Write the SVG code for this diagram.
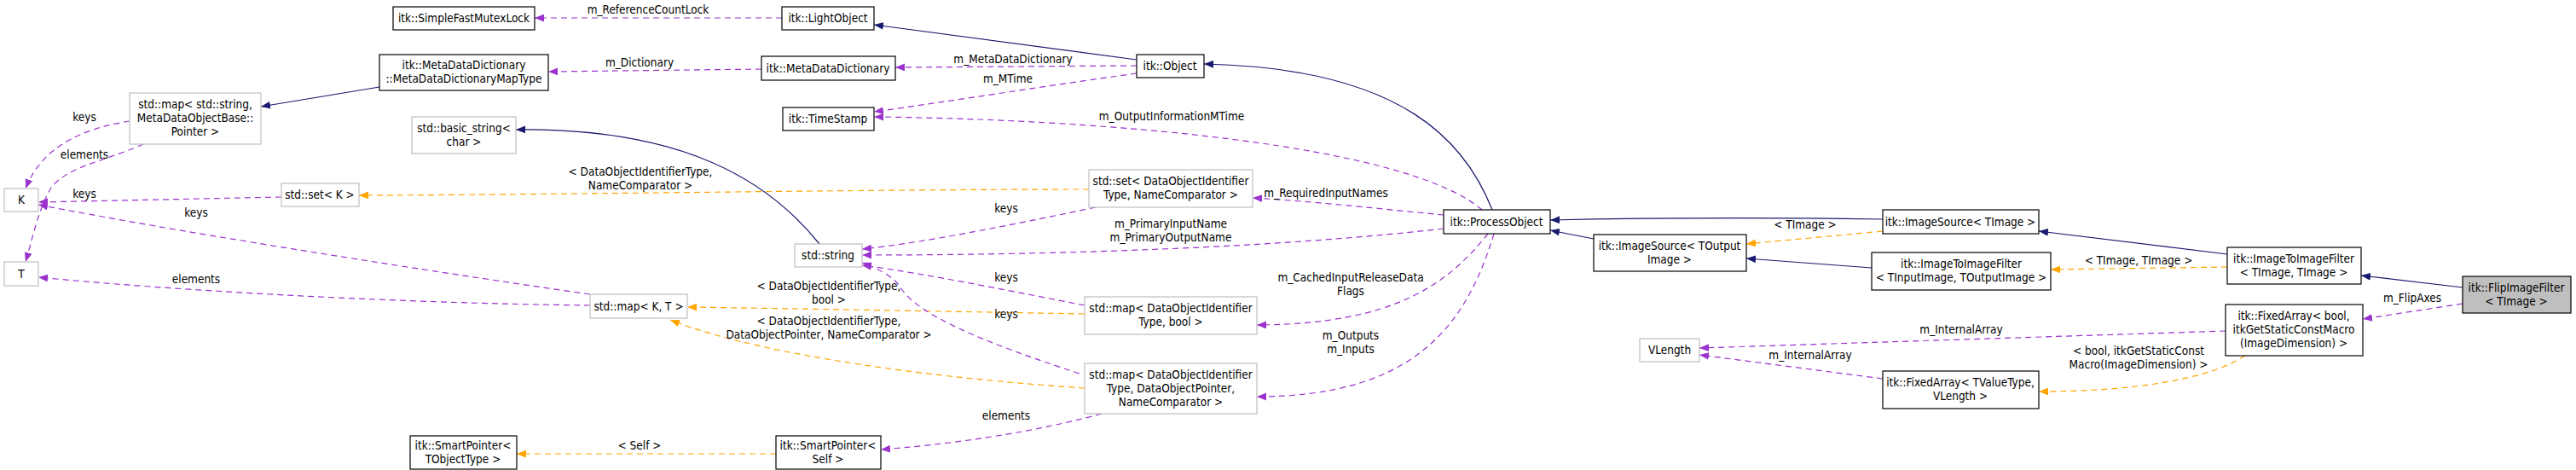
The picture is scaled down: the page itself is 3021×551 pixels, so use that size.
<svg xmlns="http://www.w3.org/2000/svg" width="3021" height="551" viewBox="0 0 3021 551">
<style>
text{font-family:"DejaVu Sans Condensed","DejaVu Sans",sans-serif;font-stretch:condensed;font-size:13.5px;fill:#000;text-anchor:middle}
.n{fill:#fff;stroke:#000;stroke-width:1.2}
.g{fill:#fff;stroke:#bfbfbf;stroke-width:1.2}
.h{fill:#bfbfbf;stroke:#000;stroke-width:1.2}
.i{fill:none;stroke:#191970;stroke-width:1.2}
.u{fill:none;stroke:#9a32cd;stroke-width:1.2;stroke-dasharray:7,5}
.t{fill:none;stroke:#ffa500;stroke-width:1.2;stroke-dasharray:7,5}
</style>
<defs>
<marker id="ai" viewBox="0 0 10 8" refX="10" refY="4" markerWidth="11" markerHeight="9" orient="auto" markerUnits="userSpaceOnUse"><path d="M0,0L10,4L0,8z" fill="#191970"/></marker>
<marker id="au" viewBox="0 0 10 8" refX="10" refY="4" markerWidth="11" markerHeight="9" orient="auto" markerUnits="userSpaceOnUse"><path d="M0,0L10,4L0,8z" fill="#9a32cd"/></marker>
<marker id="at" viewBox="0 0 10 8" refX="10" refY="4" markerWidth="11" markerHeight="9" orient="auto" markerUnits="userSpaceOnUse"><path d="M0,0L10,4L0,8z" fill="#ffa500"/></marker>
</defs>
<g id="connectors">
<path class="u" marker-end="url(#au)" d="M917,21L627,21"/><text x="760" y="16">m_ReferenceCountLock</text>
<path class="i" marker-end="url(#ai)" d="M1333,70L1025,29"/>
<path class="u" marker-end="url(#au)" d="M893,81L643,84"/><text x="750" y="78">m_Dictionary</text>
<path class="i" marker-end="url(#ai)" d="M445,102L306,125"/>
<path class="u" marker-end="url(#au)" d="M1333,77L1050,79"/><text x="1188" y="74">m_MetaDataDictionary</text>
<path class="u" marker-end="url(#au)" d="M1333,86C1230,100 1120,118 1025,131"/><text x="1182" y="97">m_MTime</text>
<path class="u" marker-end="url(#au)" d="M1738,246C1650,170 1300,140 1025,137"/><text x="1374" y="141">m_OutputInformationMTime</text>
<path class="i" marker-end="url(#ai)" d="M1750,246C1720,170 1650,80 1412,75"/>
<path class="u" marker-end="url(#au)" d="M1693,252C1620,245 1540,236 1469,232"/><text x="1555" y="231">m_RequiredInputNames</text>
<path class="u" marker-end="url(#au)" d="M1693,268C1500,290 1250,299 1011,299"/><text x="1373" y="267">m_PrimaryInputName</text><text x="1373" y="283">m_PrimaryOutputName</text>
<path class="u" marker-end="url(#au)" d="M1745,274C1700,330 1640,380 1474,381"/><text x="1584" y="330">m_CachedInputReleaseData</text><text x="1584" y="346">Flags</text>
<path class="u" marker-end="url(#au)" d="M1752,274C1720,380 1660,465 1474,465"/><text x="1584" y="398">m_Outputs</text><text x="1584" y="414">m_Inputs</text>
<path class="i" marker-end="url(#ai)" d="M1869,280L1818,270"/>
<path class="i" marker-end="url(#ai)" d="M2208,257C2080,255 1950,255 1818,258"/>
<path class="t" marker-end="url(#at)" d="M2208,271L2048,286"/><text x="2117" y="268">&lt; TImage &gt;</text>
<path class="i" marker-end="url(#ai)" d="M2195,314L2048,303"/>
<path class="i" marker-end="url(#ai)" d="M2612,298L2391,271"/>
<path class="t" marker-end="url(#at)" d="M2612,313L2405,316"/><text x="2508" y="310">&lt; TImage, TImage &gt;</text>
<path class="i" marker-end="url(#ai)" d="M2888,337L2769,323"/>
<path class="u" marker-end="url(#au)" d="M2888,356L2771,374"/><text x="2829" y="354">m_FlipAxes</text>
<path class="u" marker-end="url(#au)" d="M2610,388L1993,408"/><text x="2300" y="391">m_InternalArray</text>
<path class="u" marker-end="url(#au)" d="M2208,444L1993,416"/><text x="2123" y="421">m_InternalArray</text>
<path class="t" marker-end="url(#at)" d="M2633,417C2590,445 2500,459 2391,459"/><text x="2508" y="416">&lt; bool, itkGetStaticConst</text><text x="2508" y="432">Macro(ImageDimension) &gt;</text>
<path class="t" marker-end="url(#at)" d="M910,532L606,532"/><text x="750" y="527">&lt; Self &gt;</text>
<path class="u" marker-end="url(#au)" d="M1292,485C1200,510 1100,522 1033,527"/><text x="1180" y="492">elements</text>
<path class="t" marker-end="url(#at)" d="M1272,455C1120,445 900,420 786,375"/><text x="972" y="381">&lt; DataObjectIdentifierType,</text><text x="972" y="397">DataObjectPointer, NameComparator &gt;</text>
<path class="t" marker-end="url(#at)" d="M1272,368C1100,365 950,362 806,360"/><text x="972" y="340">&lt; DataObjectIdentifierType,</text><text x="972" y="356">bool &gt;</text>
<path class="u" marker-end="url(#au)" d="M1272,358C1180,340 1080,320 1011,311"/><text x="1180" y="330">keys</text>
<path class="u" marker-end="url(#au)" d="M1266,438C1150,400 1080,370 1058,340C1050,325 1030,315 1011,308"/><text x="1180" y="373">keys</text>
<path class="u" marker-end="url(#au)" d="M1285,243C1180,265 1080,285 1011,292"/><text x="1180" y="249">keys</text>
<path class="t" marker-end="url(#at)" d="M1277,222C1000,222 700,228 421,229"/><text x="751" y="206">&lt; DataObjectIdentifierType,</text><text x="751" y="222">NameComparator &gt;</text>
<path class="i" marker-end="url(#ai)" d="M961,286C900,210 800,150 605,152"/>
<path class="u" marker-end="url(#au)" d="M692,345C450,310 200,270 45,240"/><text x="230" y="254">keys</text>
<path class="u" marker-end="url(#au)" d="M692,358C450,355 200,340 45,325"/><text x="230" y="332">elements</text>
<path class="u" marker-end="url(#au)" d="M330,231L45,237"/><text x="99" y="232">keys</text>
<path class="u" marker-end="url(#au)" d="M152,142C100,150 50,170 30,221"/><text x="99" y="142">keys</text>
<path class="u" marker-end="url(#au)" d="M168,169C120,190 80,195 60,220C45,245 38,280 30,307"/><text x="99" y="186">elements</text>
</g>
<g id="n_mutex"><rect class="n" x="461" y="8" width="166" height="27"/><text x="544" y="26">itk::SimpleFastMutexLock</text></g>
<g id="n_light"><rect class="n" x="917" y="8" width="108" height="27"/><text x="971" y="26">itk::LightObject</text></g>
<g id="n_maptype"><rect class="n" x="445" y="64" width="198" height="42"/><text x="544" y="81">itk::MetaDataDictionary</text><text x="544" y="97">::MetaDataDictionaryMapType</text></g>
<g id="n_mdd"><rect class="n" x="893" y="66" width="157" height="28"/><text x="971" y="85">itk::MetaDataDictionary</text></g>
<g id="n_stdmapstr"><rect class="g" x="152" y="109" width="154" height="60"/><text x="229" y="127">std::map&lt; std::string,</text><text x="229" y="143">MetaDataObjectBase::</text><text x="229" y="159">Pointer &gt;</text></g>
<g id="n_basic"><rect class="g" x="483" y="137" width="122" height="43"/><text x="544" y="155">std::basic_string&lt;</text><text x="544" y="171">char &gt;</text></g>
<g id="n_object"><rect class="n" x="1333" y="64" width="79" height="27"/><text x="1372" y="82">itk::Object</text></g>
<g id="n_timestamp"><rect class="n" x="918" y="126" width="107" height="27"/><text x="971" y="144">itk::TimeStamp</text></g>
<g id="n_K"><rect class="g" x="5" y="221" width="40" height="27"/><text x="25" y="239">K</text></g>
<g id="n_T"><rect class="g" x="5" y="307" width="40" height="28"/><text x="25" y="326">T</text></g>
<g id="n_setK"><rect class="g" x="330" y="215" width="91" height="27"/><text x="375" y="233">std::set&lt; K &gt;</text></g>
<g id="n_setDOI"><rect class="g" x="1277" y="199" width="192" height="44"/><text x="1373" y="217">std::set&lt; DataObjectIdentifier</text><text x="1373" y="233">Type, NameComparator &gt;</text></g>
<g id="n_string"><rect class="g" x="932" y="286" width="79" height="27"/><text x="971" y="304">std::string</text></g>
<g id="n_mapKT"><rect class="g" x="692" y="345" width="114" height="28"/><text x="749" y="364">std::map&lt; K, T &gt;</text></g>
<g id="n_mapbool"><rect class="g" x="1272" y="348" width="202" height="44"/><text x="1373" y="366">std::map&lt; DataObjectIdentifier</text><text x="1373" y="382">Type, bool &gt;</text></g>
<g id="n_mapdop"><rect class="g" x="1272" y="426" width="202" height="59"/><text x="1373" y="444">std::map&lt; DataObjectIdentifier</text><text x="1373" y="460">Type, DataObjectPointer,</text><text x="1373" y="476">NameComparator &gt;</text></g>
<g id="n_spT"><rect class="n" x="481" y="511" width="125" height="39"/><text x="543" y="527">itk::SmartPointer&lt;</text><text x="543" y="543">TObjectType &gt;</text></g>
<g id="n_spSelf"><rect class="n" x="910" y="511" width="123" height="39"/><text x="971" y="527">itk::SmartPointer&lt;</text><text x="971" y="543">Self &gt;</text></g>
<g id="n_process"><rect class="n" x="1693" y="246" width="125" height="28"/><text x="1755" y="265">itk::ProcessObject</text></g>
<g id="n_isOut"><rect class="n" x="1869" y="275" width="179" height="43"/><text x="1958" y="293">itk::ImageSource&lt; TOutput</text><text x="1958" y="309">Image &gt;</text></g>
<g id="n_isImg"><rect class="n" x="2208" y="246" width="183" height="28"/><text x="2299" y="265">itk::ImageSource&lt; TImage &gt;</text></g>
<g id="n_itiIO"><rect class="n" x="2195" y="296" width="210" height="44"/><text x="2300" y="314">itk::ImageToImageFilter</text><text x="2300" y="330">&lt; TInputImage, TOutputImage &gt;</text></g>
<g id="n_vlength"><rect class="g" x="1923" y="397" width="70" height="27"/><text x="1958" y="415">VLength</text></g>
<g id="n_faTV"><rect class="n" x="2208" y="435" width="183" height="44"/><text x="2299" y="453">itk::FixedArray&lt; TValueType,</text><text x="2299" y="469">VLength &gt;</text></g>
<g id="n_itiII"><rect class="n" x="2612" y="290" width="157" height="43"/><text x="2690" y="308">itk::ImageToImageFilter</text><text x="2690" y="324">&lt; TImage, TImage &gt;</text></g>
<g id="n_faBool"><rect class="n" x="2610" y="357" width="161" height="60"/><text x="2690" y="375">itk::FixedArray&lt; bool,</text><text x="2690" y="391">itkGetStaticConstMacro</text><text x="2690" y="407">(ImageDimension) &gt;</text></g>
<g id="n_flip"><rect class="h" x="2888" y="324" width="127" height="43"/><text x="2951" y="342">itk::FlipImageFilter</text><text x="2951" y="358">&lt; TImage &gt;</text></g>
</svg>
